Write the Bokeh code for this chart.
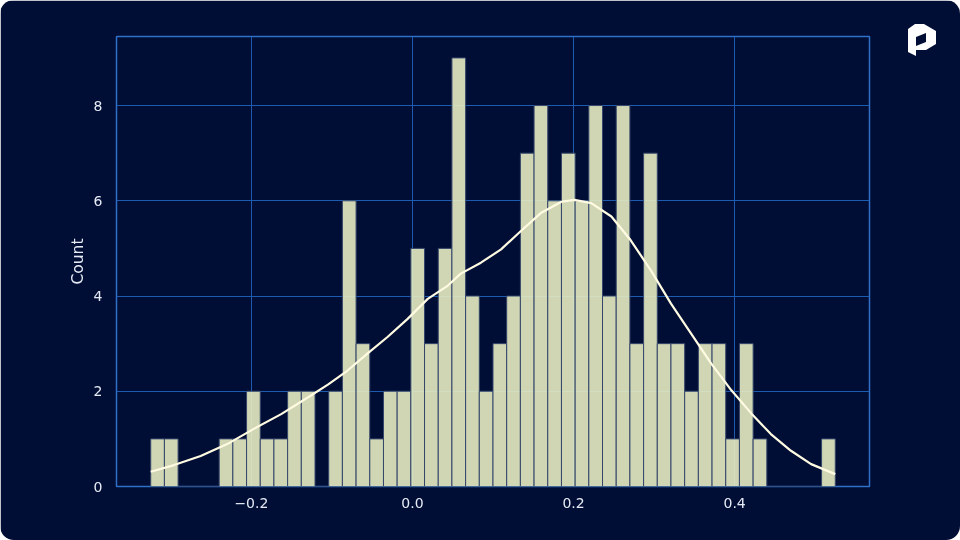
import numpy as np
from bokeh.plotting import figure
from bokeh.models import Range1d, FixedTicker, Div
from bokeh.layouts import column
from bokeh.embed import file_html
from bokeh.resources import INLINE

# ---- data ----
bin_start = -0.325
bin_width = 0.017
counts = [1, 1, 0, 0, 0, 1, 1, 2, 1, 1,
          2, 2, 0, 2, 6, 3, 1, 2, 2, 5,
          3, 5, 9, 4, 2, 3, 4, 7, 8, 6,
          7, 6, 8, 4, 8, 3, 7, 3, 3, 2,
          3, 3, 1, 3, 1, 0, 0, 0, 0, 1]

kde_x = [-0.325, -0.296, -0.263, -0.230, -0.197, -0.163, -0.130, -0.105, -0.081, -0.056,
         -0.031, -0.006, 0.019, 0.044, 0.060, 0.085, 0.110, 0.135, 0.160, 0.185,
         0.201, 0.222, 0.247, 0.271, 0.296, 0.321, 0.346, 0.371, 0.396, 0.421,
         0.445, 0.470, 0.495, 0.525]
kde_y = [0.31, 0.45, 0.64, 0.89, 1.21, 1.52, 1.87, 2.14, 2.43, 2.79,
         3.14, 3.52, 3.94, 4.22, 4.47, 4.70, 4.98, 5.37, 5.75, 5.98,
         6.02, 5.95, 5.67, 5.17, 4.54, 3.84, 3.21, 2.58, 2.02, 1.53,
         1.10, 0.75, 0.47, 0.26]

x_ticks = [-0.2, 0.0, 0.2, 0.4]
x_tick_labels = ["\u22120.2", "0.0", "0.2", "0.4"]
y_ticks = [0, 2, 4, 6, 8]
y_tick_labels = ["0", "2", "4", "6", "8"]

# ---- styles ----
BG = "#000d34"
GRID = "#1d5bb0"
SPINE = "#2f70c8"
TEXT = "#e6ebf5"
FONT = "DejaVu Sans"

n = len(counts)
edges = bin_start + bin_width * np.arange(n + 1)
lo, hi = edges[0], edges[-1]
span = hi - lo
ymax = max(counts) * 1.05

p = figure(width=960, height=540, output_backend="svg", toolbar_location=None,
           x_range=Range1d(lo - 0.05 * span, hi + 0.05 * span),
           y_range=Range1d(0, ymax),
           min_border_left=116, min_border_right=91,
           min_border_top=36, min_border_bottom=54)

p.background_fill_color = BG
p.border_fill_color = BG
p.outline_line_color = SPINE
p.outline_line_width = 1.5

p.grid.grid_line_color = GRID
p.grid.grid_line_width = 1

p.quad(left=edges[:-1], right=edges[1:], bottom=0, top=counts,
       fill_color="#e7ecc2", fill_alpha=0.9, line_color="#34466a", line_width=1)

p.line(kde_x, kde_y, line_color="#fffbe2", line_width=2.2, line_join="round")

p.xaxis.ticker = FixedTicker(ticks=x_ticks)
p.xaxis.major_label_overrides = dict(zip(x_ticks, x_tick_labels))
p.yaxis.ticker = FixedTicker(ticks=y_ticks)
p.yaxis.major_label_overrides = dict(zip(y_ticks, y_tick_labels))

for ax in (p.xaxis, p.yaxis):
    ax.axis_line_color = None
    ax.major_tick_line_color = None
    ax.minor_tick_line_color = None
    ax.major_label_text_color = TEXT
    ax.major_label_text_font = FONT
    ax.major_label_text_font_size = "14px"
    ax.axis_label_text_color = TEXT
    ax.axis_label_text_font = FONT
    ax.axis_label_text_font_size = "15.5px"
    ax.axis_label_text_font_style = "normal"

p.xaxis.major_label_standoff = 5
p.yaxis.major_label_standoff = 8
p.yaxis.axis_label = "Count"
p.yaxis.axis_label_standoff = 4

p.styles = {"position": "fixed", "left": "0px", "top": "0px",
            "border-radius": "14px", "overflow": "hidden"}

# logo (decoration)
logo_svg = ('<svg width="30" height="34" viewBox="0 0 30 34" xmlns="http://www.w3.org/2000/svg">'
            '<polygon points="0,6 7,1 16,1 28,8 28,21 18,27 8,27 8,33 0,29" fill="white"/>'
            '<polygon points="8,14 18,10 18,19 8,23" fill="' + BG + '"/>'
            '</svg>')
logo = Div(text=logo_svg, width=30, height=34,
           styles={"position": "fixed", "left": "903px", "top": "18px", "z-index": "10"})

layout = column(p, logo)
open("out.html", "w").write(file_html(layout, INLINE))
